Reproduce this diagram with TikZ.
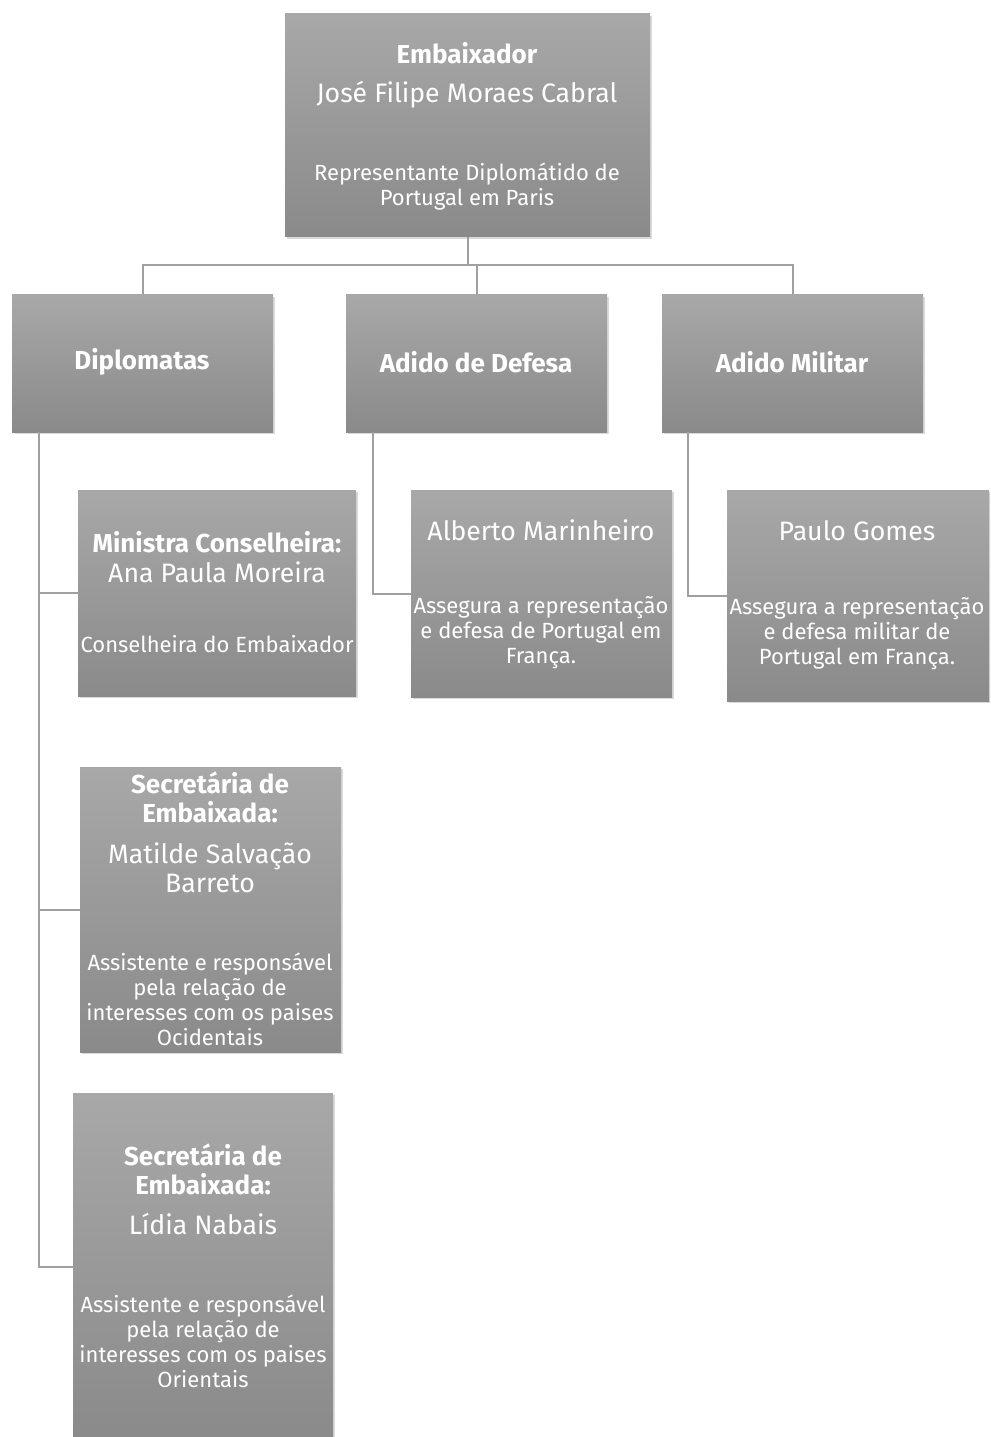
\documentclass[tikz,border=0pt]{standalone}
\usepackage{fontspec}
\setmainfont{Fira Sans}
\usetikzlibrary{shadows,fit}
\definecolor{boxtop}{RGB}{168,168,168}
\definecolor{boxbot}{RGB}{138,138,138}
\definecolor{linec}{RGB}{160,160,160}
\begin{document}
\begin{tikzpicture}[x=0.75pt,y=-0.75pt,
  box/.style={rectangle, inner sep=0pt, draw=none, top color=boxtop, bottom color=boxbot,
    drop shadow={opacity=0.3, shadow xshift=1.5pt, shadow yshift=-1.5pt}},
  big/.style={text=white, align=center, inner sep=0pt, font=\fontsize{20}{21.75}\selectfont},
  bigb/.style={text=white, align=center, inner sep=0pt, font=\fontsize{19.5}{21.75}\selectfont\bfseries},
  small/.style={text=white, align=center, inner sep=0pt, font=\fontsize{16.5}{18.75}\selectfont},
  conn/.style={draw=linec, line width=1.5pt}]
\useasboundingbox (0,0) rectangle (990,1437);
\clip (0,0) rectangle (990,1437);

% boxes
\node[box, fit={(285,14) (650,237)}] (top) {};
\node[box, fit={(12,295) (273,432)}] (dipl) {};
\node[box, fit={(346,295) (607,432)}] (def) {};
\node[box, fit={(662,295) (923,432)}] (mil) {};
\node[box, fit={(78,490) (356,696)}] (min) {};
\node[box, fit={(411,490) (672,697)}] (alb) {};
\node[box, fit={(727,490) (989,701)}] (pau) {};
\node[box, fit={(80,767) (341,1052)}] (sec1) {};
\node[box, fit={(73,1093) (333,1441)}] (sec2) {};

% connectors
\coordinate (bus) at (0,265);
\coordinate (dtop) at (39,432);
\coordinate (deftop) at (373,432);
\coordinate (miltop) at (688,432);
\draw[conn] (top.south) -- (top.south |- bus) -| (dipl.north);
\draw[conn] (top.south |- bus) -| (def.north);
\draw[conn] (top.south |- bus) -| (mil.north);
\draw[conn] (dtop) |- (sec2.west);
\draw[conn] (dtop) |- (min.west);
\draw[conn] (dtop) |- (sec1.west);
\draw[conn] (deftop) |- (alb.west);
\draw[conn] (miltop) |- (pau.west);

% texts
\node[bigb] (t1) at (467,53) {Embaixador};
\node[big] (t2) at (467,95) {José Filipe Moraes Cabral};
\node[small] (t3) at (467,186.5) {Representante Diplomátido de\\Portugal em Paris};

\node[bigb] (t4) at (142,362) {Diplomatas};
\node[bigb] (t5) at (476,362) {Adido de Defesa};
\node[bigb] (t6) at (792,362) {Adido Militar};

\node[bigb] (t7) at (217,542) {Ministra Conselheira:};
\node[big] (t8) at (217,572) {Ana Paula Moreira};
\node[small] (t9) at (217,644) {Conselheira do Embaixador};

\node[big] (t10) at (541,530) {Alberto Marinheiro};
\node[small] (t11) at (541,633) {Assegura a representação\\e defesa de Portugal em\\França.};

\node[big] (t12) at (857,531) {Paulo Gomes};
\node[small] (t13) at (857,634) {Assegura a representação\\e defesa militar de\\Portugal em França.};

\node[bigb] (t14) at (210,797.5) {Secretária de\\Embaixada:};
\node[big] (t15) at (210,867.5) {Matilde Salvação\\Barreto};
\node[small] (t16) at (210,999) {Assistente e responsável\\pela relação de\\interesses com os paises\\Ocidentais};

\node[bigb] (t17) at (203,1169.5) {Secretária de\\Embaixada:};
\node[big] (t18) at (203,1224) {Lídia Nabais};
\node[small] (t19) at (203,1341) {Assistente e responsável\\pela relação de\\interesses com os paises\\Orientais};
\end{tikzpicture}
\end{document}
